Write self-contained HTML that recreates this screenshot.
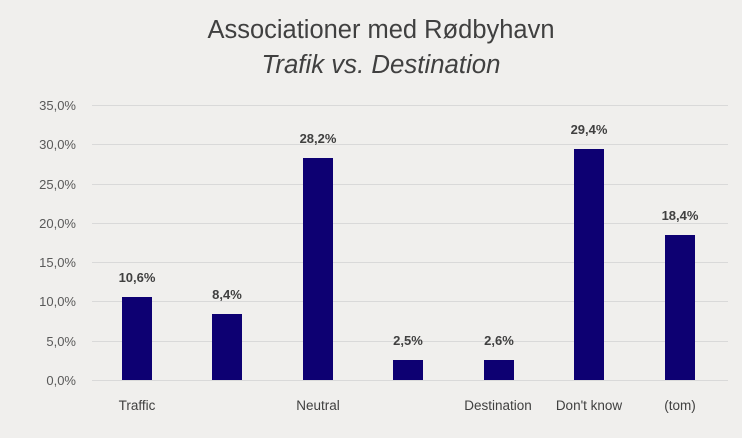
<!DOCTYPE html>
<html><head><meta charset="utf-8"><style>
body{margin:0;background:#f0efed;}
svg{display:block;font-family:"Liberation Sans",sans-serif;}
</style></head><body>
<svg width="742" height="438" viewBox="0 0 742 438">
<rect width="742" height="438" fill="#f0efed"/>
<text x="381" y="38" font-size="25.5" fill="#404040" text-anchor="middle" textLength="347" lengthAdjust="spacingAndGlyphs">Associationer med Rødbyhavn</text>
<text x="381" y="73" font-size="25.5" fill="#404040" text-anchor="middle" font-style="italic" textLength="239" lengthAdjust="spacingAndGlyphs">Trafik vs. Destination</text>
<g stroke="#d9d9d9" stroke-width="1">
<line x1="92" x2="728" y1="105.5" y2="105.5"/>
<line x1="92" x2="728" y1="144.5" y2="144.5"/>
<line x1="92" x2="728" y1="184.5" y2="184.5"/>
<line x1="92" x2="728" y1="223.5" y2="223.5"/>
<line x1="92" x2="728" y1="262.5" y2="262.5"/>
<line x1="92" x2="728" y1="301.5" y2="301.5"/>
<line x1="92" x2="728" y1="341.5" y2="341.5"/>
<line x1="92" x2="728" y1="380.5" y2="380.5"/>
</g>
<g font-size="13" fill="#595959" text-anchor="end">
<text x="76" y="110">35,0%</text>
<text x="76" y="149">30,0%</text>
<text x="76" y="189">25,0%</text>
<text x="76" y="228">20,0%</text>
<text x="76" y="267">15,0%</text>
<text x="76" y="306">10,0%</text>
<text x="76" y="346">5,0%</text>
<text x="76" y="385">0,0%</text>
</g>
<g fill="#0d0072">
<rect x="122" y="297" width="30" height="83"/>
<rect x="212" y="314" width="30" height="66"/>
<rect x="303" y="158" width="30" height="222"/>
<rect x="393" y="360" width="30" height="20"/>
<rect x="484" y="360" width="30" height="20"/>
<rect x="574" y="149" width="30" height="231"/>
<rect x="665" y="235" width="30" height="145"/>
</g>
<g font-size="13" fill="#404040" text-anchor="middle" font-weight="bold">
<text x="137" y="282">10,6%</text>
<text x="227" y="299">8,4%</text>
<text x="318" y="143">28,2%</text>
<text x="408" y="345">2,5%</text>
<text x="499" y="345">2,6%</text>
<text x="589" y="134">29,4%</text>
<text x="680" y="220">18,4%</text>
</g>
<g font-size="13.5" fill="#404040" text-anchor="middle">
<text x="137" y="410">Traffic</text>
<text x="318" y="410">Neutral</text>
<text x="498" y="410">Destination</text>
<text x="589" y="410">Don't know</text>
<text x="680" y="410">(tom)</text>
</g>
</svg>
</body></html>
